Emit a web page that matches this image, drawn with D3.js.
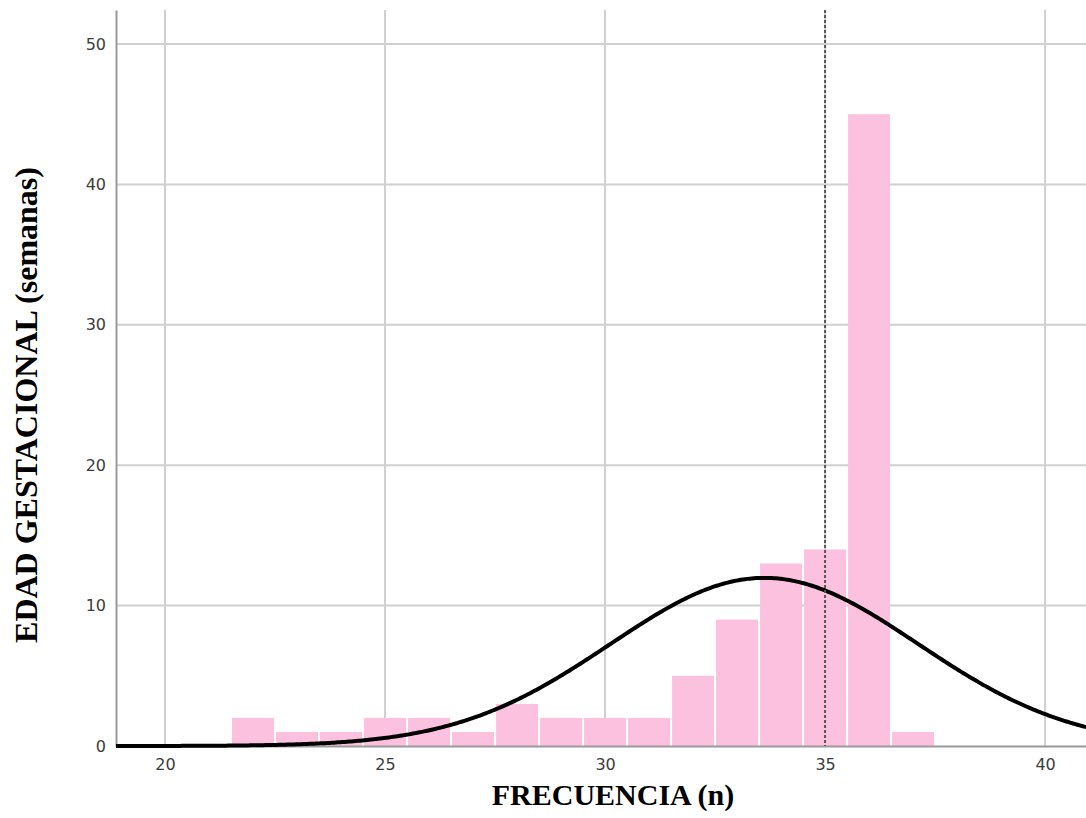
<!DOCTYPE html>
<html>
<head>
<meta charset="utf-8">
<script src="https://cdn.jsdelivr.net/npm/d3@7"></script>
<style>
  body { margin: 0; background: #fff; }
  svg { display: block; }
  .tick text { font-family: "DejaVu Sans", Verdana, sans-serif; font-size: 16px; fill: #3c3c3c; }
</style>
</head>
<body>
<svg id="chart" width="1086" height="818"></svg>
<script>
// histogram bins (centre of 1-week bin) and counts
const binCentres = [22, 23, 24, 25, 26, 27, 28, 29, 30, 31, 32, 33, 34, 35, 36, 37];
const counts     = [2, 1, 1, 2, 2, 1, 3, 2, 2, 2, 5, 9, 13, 14, 45, 1];
const xTicks = [20, 25, 30, 35, 40];
const yTicks = [0, 10, 20, 30, 40, 50];
const refLine = 35;

const width = 1086, height = 818;
const margin = {top: 10, right: 0, bottom: 72, left: 116};

const svg = d3.select("#chart");

const x = d3.scaleLinear()
  .domain([18.886, 40.93])
  .range([margin.left, width - margin.right]);
const y = d3.scaleLinear()
  .domain([0, 52.42])
  .range([height - margin.bottom, margin.top]);

// grid
svg.append("g")
  .selectAll("line")
  .data(yTicks.slice(1))
  .join("line")
    .attr("x1", margin.left).attr("x2", width)
    .attr("y1", d => y(d)).attr("y2", d => y(d))
    .attr("stroke", "#d0d0d0").attr("stroke-width", 2);
svg.append("g")
  .selectAll("line")
  .data(xTicks)
  .join("line")
    .attr("x1", d => x(d)).attr("x2", d => x(d))
    .attr("y1", margin.top).attr("y2", y(0))
    .attr("stroke", "#d0d0d0").attr("stroke-width", 2);

// BARS
svg.append("g")
  .selectAll("rect")
  .data(binCentres)
  .join("rect")
    .attr("x", d => x(d - 0.5) + 1)
    .attr("width", d => x(d + 0.5) - x(d - 0.5) - 2)
    .attr("y", (d, i) => y(counts[i]))
    .attr("height", (d, i) => y(0) - y(counts[i]))
    .attr("fill", "#fdc1e0");

// axes
const xAxis = svg.append("g")
  .attr("transform", `translate(0,${y(0)})`)
  .call(d3.axisBottom(x).tickValues(xTicks).tickSize(0).tickPadding(13));
xAxis.select(".domain").attr("stroke", "#9a9a9a").attr("stroke-width", 2);

const yAxis = svg.append("g")
  .attr("transform", `translate(${margin.left},0)`)
  .call(d3.axisLeft(y).tickValues(yTicks).tickSize(0).tickPadding(10));
yAxis.select(".domain").attr("stroke", "#9a9a9a").attr("stroke-width", 2);

// normal curve from the histogram's mean and sd
const n = d3.sum(counts);
const mean = d3.sum(binCentres, (d, i) => d * counts[i]) / n;
const sd = Math.sqrt(d3.sum(binCentres, (d, i) => counts[i] * (d - mean) ** 2) / (n - 1));
const curveX = d3.range(x.domain()[0], x.domain()[1] + 0.05, 0.05);
const normal = v => n * Math.exp(-0.5 * ((v - mean) / sd) ** 2) / (sd * Math.sqrt(2 * Math.PI));

svg.append("path")
  .datum(curveX)
  .attr("fill", "none")
  .attr("stroke", "#000")
  .attr("stroke-width", 4)
  .attr("d", d3.line().x(d => x(d)).y(d => y(normal(d))));

// reference line
svg.append("line")
  .attr("x1", x(refLine)).attr("x2", x(refLine))
  .attr("y1", margin.top).attr("y2", y(0))
  .attr("stroke", "#555").attr("stroke-width", 2)
  .attr("stroke-dasharray", "3,2");

// titles
svg.append("text")
  .attr("x", 613).attr("y", 805)
  .attr("text-anchor", "middle")
  .style("font", "bold 30px 'Liberation Serif', 'Times New Roman', serif")
  .text("FRECUENCIA (n)");

svg.append("text")
  .attr("transform", "translate(37,405) rotate(-90)")
  .attr("text-anchor", "middle")
  .style("font", "bold 32px 'Liberation Serif', 'Times New Roman', serif")
  .text("EDAD GESTACIONAL (semanas)");
</script>
</body>
</html>
